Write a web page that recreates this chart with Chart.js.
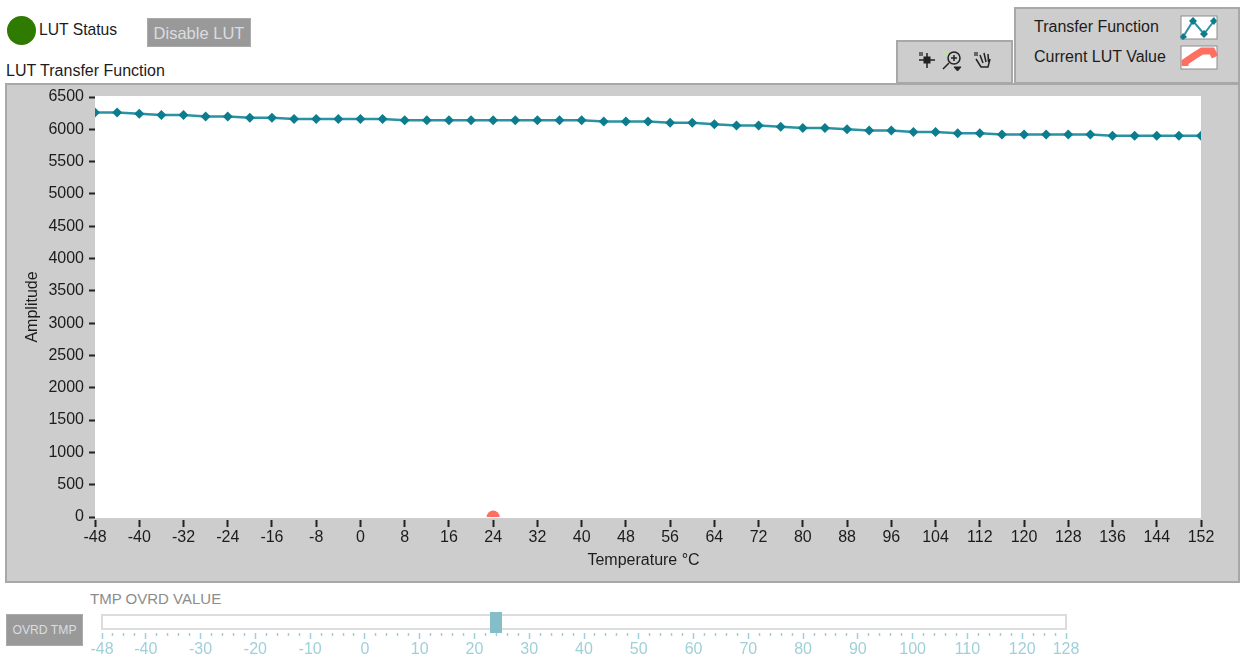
<!DOCTYPE html>
<html>
<head>
<meta charset="utf-8">
<title>LUT Transfer Function</title>
<script src="https://cdn.jsdelivr.net/npm/chart.js@4"></script>
<style>
  html,body { margin:0; padding:0; background:#fff; }
  body { width:1246px; height:665px; position:relative; overflow:hidden; font-family:'Liberation Sans',Arial,sans-serif; color:#1c1c1c; }
  .abs { position:absolute; white-space:nowrap; }
  .panel { position:absolute; box-sizing:border-box; background:#cdcdcd; border:2px solid #a8a8a8; }
  .btn { position:absolute; box-sizing:border-box; background:#999; border:1px solid #aaa; color:#d9dde0; text-align:center; }
  canvas { position:absolute; left:0; }
</style>
</head>
<body>
  <div class="abs" style="left:7px;top:16px;width:29px;height:29px;border-radius:50%;background:#2f7a00"></div>
  <div class="abs" style="left:39px;top:21px;font-size:15.7px">LUT Status</div>
  <div class="btn" style="left:147px;top:18px;width:104px;height:29px;font-size:16.5px;line-height:28px">Disable LUT</div>
  <div class="abs" style="left:6px;top:62px;font-size:16px">LUT Transfer Function</div>

  <div class="panel" style="left:5px;top:83px;width:1235px;height:500px"></div>

  <div class="panel" style="left:896px;top:40px;width:117px;height:44px"></div>
  <svg class="abs" style="left:916px;top:48px" width="80" height="26" viewBox="0 0 80 26" fill="none" stroke="#222">
    <rect x="3" y="4" width="4" height="4" fill="#666" stroke="none"/>
    <path d="M3 12H19M11 5V20" stroke-width="1.5"/><rect x="8" y="9" width="6" height="6" fill="#222"/>
    <rect x="27" y="3" width="5" height="5" fill="#bfe0a8" stroke="none"/>
    <circle cx="38" cy="10" r="6" stroke-width="1.5"/><path d="M38 7V13M35 10H41M33 15L27 21" stroke-width="1.5"/>
    <path d="M38 19H45L41.500 23Z" fill="#222"/>
    <rect x="58" y="4" width="4" height="4" fill="#666" stroke="none"/>
    <path d="M60 11L65 19H72L74 11M64 7L67 15M68 5L70 14M72 6L72.500 14" stroke-width="1.5"/>
  </svg>

  <div class="panel" style="left:1014px;top:7px;width:226px;height:77px"></div>
  <div class="abs" style="left:1034px;top:18px;font-size:16px">Transfer Function</div>
  <div class="abs" style="left:1034px;top:48px;font-size:16px">Current LUT Value</div>
  <svg class="abs" style="left:1180px;top:15px" width="38" height="25">
    <rect x="1" y="1" width="36" height="23" fill="#fff" stroke="#8c8c8c"/>
    <path d="M3 22L13 6L24 19L34 6" fill="none" stroke="#2a92a3" stroke-width="2"/>
    <path d="M3 18l4 4-4 3-3-3zM13 2l4 4-4 4-4-4zM24 15l4 4-4 4-4-4zM34 2l3 4-3 4-4-4z" fill="#0b7d8e"/>
  </svg>
  <svg class="abs" style="left:1180px;top:45px" width="38" height="25">
    <rect x="1" y="1" width="36" height="23" fill="#fff" stroke="#8c8c8c"/>
    <path d="M5 21V17L14 11L22 6H32L35 12" fill="none" stroke="#ff6f61" stroke-width="7"/>
  </svg>

  <div class="abs" style="left:90px;top:590px;font-size:15px;color:#8c8c8c">TMP OVRD VALUE</div>
  <div class="btn" style="left:6px;top:614px;width:77px;height:32px;font-size:12.2px;line-height:31px">OVRD TMP</div>
  <div class="abs" style="left:101px;top:614px;width:966px;height:16px;box-sizing:border-box;background:#fff;border:2px solid #dcdcdc"></div>

  <canvas id="chartLut" width="1246" height="665" style="top:0"></canvas>
  <canvas id="chartSlider" width="1246" height="65" style="top:600px"></canvas>

<script>
const temps = [-48,-44,-40,-36,-32,-28,-24,-20,-16,-12,-8,-4,0,4,8,12,16,20,24,28,32,36,40,44,48,52,56,60,64,68,72,76,80,84,88,92,96,100,104,108,112,116,120,124,128,132,136,140,144,148,152];
const amplitudes = [6260,6260,6240,6220,6220,6200,6200,6180,6180,6160,6160,6160,6160,6160,6140,6140,6140,6140,6140,6140,6140,6140,6140,6120,6120,6120,6100,6100,6080,6060,6060,6040,6020,6020,6000,5980,5980,5960,5960,5940,5940,5920,5920,5920,5920,5920,5900,5900,5900,5900,5900];
const currentTemp = [24];
const currentValue = [0];
const sliderMin = -48;
const sliderMax = 128;
const sliderLabels = [-48,-40,-30,-20,-10,0,10,20,30,40,50,60,70,80,90,100,110,120,128];
const sliderMinorTicks = [-46,-44,-42,-38,-36,-34,-32,-28,-26,-24,-22,-18,-16,-14,-12,-8,-6,-4,-2,2,4,6,8,12,14,16,18,22,24,26,28,32,34,36,38,42,44,46,48,52,54,56,58,62,64,66,68,72,74,76,78,82,84,86,88,92,94,96,98,102,104,106,108,112,114,116,118,122,124,126];
const overrideTemp = [24];

const FONT = 'Liberation Sans';

// white plot background, the grey panel behind is a plain div
const plotBg = {
  id:'plotBg',
  beforeDraw(chart) {
    const a = chart.chartArea, c = chart.ctx;
    c.save(); c.fillStyle = '#fff';
    c.fillRect(a.left, a.top-1, a.right-a.left, a.bottom-a.top+2);
    c.restore();
  }
};

new Chart(document.getElementById('chartLut').getContext('2d'), {
  type:'scatter',
  data:{ datasets:[
    { label:'Current LUT Value', data:currentTemp.map((t,i)=>({x:t,y:currentValue[i]})),
      pointStyle:'circle', pointRadius:6.5, backgroundColor:'#ff6f61', borderColor:'#ff6f61', borderWidth:0 },
    { label:'Transfer Function', data:temps.map((t,i)=>({x:t,y:amplitudes[i]})),
      showLine:true, borderColor:'#2a92a3', borderWidth:2.5, pointStyle:'rectRot', pointRadius:5,
      pointBackgroundColor:'#0b7d8e', pointBorderColor:'#0b7d8e', pointBorderWidth:0 },
  ]},
  options:{
    responsive:false, animation:false,
    layout:{ padding:{ left:0, right:45, top:97, bottom:0 } },
    plugins:{ legend:{display:false}, tooltip:{enabled:false}, title:{display:false} },
    scales:{
      x:{ type:'linear', min:-48, max:152,
        afterFit(s){ s.height = 148; },
        border:{display:false},
        grid:{ drawOnChartArea:false, tickLength:10, tickWidth:2, tickColor:'#222', tickBorderDash:[0,3,7,20] },
        ticks:{ stepSize:8, autoSkip:false, maxRotation:0, padding:1, color:'#1c1c1c', font:{family:FONT,size:16} },
        title:{ display:true, text:'Temperature °C\u00a0\u00a0', color:'#1c1c1c', font:{family:FONT,size:16}, padding:{top:0,bottom:95} }
      },
      y:{ min:0, max:6500,
        afterFit(s){ s.width = 95; },
        border:{display:false},
        grid:{ drawOnChartArea:false, tickLength:9, tickWidth:2, tickColor:'#222', tickBorderDash:[0,3,6,20] },
        ticks:{ stepSize:500, padding:2, color:'#1c1c1c', font:{family:FONT,size:16}, callback:v=>String(v) },
        title:{ display:true, text:'Amplitude', color:'#1c1c1c', font:{family:FONT,size:16}, padding:{top:23,bottom:0} }
      }
    }
  },
  plugins:[plotBg]
});

// slider thumb as a point image
const thumb = document.createElement('canvas');
thumb.width = 12; thumb.height = 21;
const tc = thumb.getContext('2d');
tc.fillStyle = '#84bfc9'; tc.fillRect(0,0,12,21);

const SLIDER_COLOR = '#9fd0da';
new Chart(document.getElementById('chartSlider').getContext('2d'), {
  type:'scatter',
  data:{ datasets:[ { label:'TMP OVRD VALUE', data:overrideTemp.map(t=>({x:t,y:0.5})), pointStyle:thumb, clip:false } ] },
  options:{
    responsive:false, animation:false,
    layout:{ padding:{ left:102, right:180, top:12, bottom:0 } },
    plugins:{ legend:{display:false}, tooltip:{enabled:false} },
    scales:{
      y:{ display:false, min:0, max:1 },
      x:{ type:'linear', min:sliderMin, max:sliderMax,
        afterFit(s){ s.height = 32; },
        afterBuildTicks(s){ s.ticks = sliderLabels.concat(sliderMinorTicks).sort((a,b)=>a-b).map(v=>({value:v})); },
        border:{display:false},
        grid:{ drawOnChartArea:false, tickLength:6, tickWidth:1.5, tickColor:SLIDER_COLOR,
          tickBorderDash: c => sliderLabels.includes(c.tick && c.tick.value) ? [6,6] : [3,9] },
        ticks:{ autoSkip:false, maxRotation:0, padding:1, color:SLIDER_COLOR, font:{family:FONT,size:16},
          callback: v => sliderLabels.includes(v) ? String(v) : '' }
      }
    }
  }
});
</script>
</body>
</html>
